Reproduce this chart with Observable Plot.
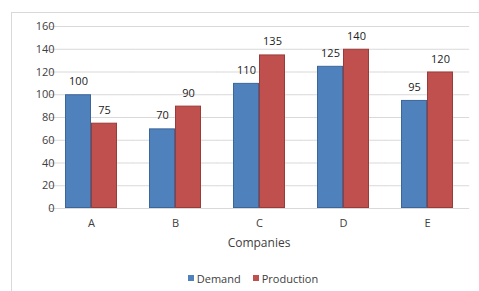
<!DOCTYPE html>
<html>
<head>
<meta charset="utf-8">
<script src="https://cdn.jsdelivr.net/npm/d3@7"></script>
<script src="https://cdn.jsdelivr.net/npm/@observablehq/plot@0.6"></script>
<style>
  html, body { margin: 0; padding: 0; background: #fff; }
  body { width: 479px; height: 291px; position: relative; overflow: hidden; font-family: "Open Sans", sans-serif; }
  #frame { position: absolute; left: 11px; top: 12px; width: 480px; height: 300px; border-left: 1px solid #d9d9d9; border-top: 1px solid #d9d9d9; }
  #chart { position: absolute; left: 0; top: 0; }
  #legend { position: absolute; left: 0; top: 269px; width: 479px; text-align: center; font-size: 11px; color: #404040; padding-left: 27px; box-sizing: border-box; }
  #legend span.item { display: inline-flex; align-items: center; margin: 0 6px; }
  #legend span.sw { display: inline-block; width: 6px; height: 6px; margin-right: 3px; }
</style>
</head>
<body>
<div id="frame"></div>
<div id="chart"></div>
<div id="legend"></div>
<script>
const companies = ["A", "B", "C", "D", "E"];
const demand = [100, 70, 110, 125, 95];
const production = [75, 90, 135, 140, 120];
const seriesNames = ["Demand", "Production"];
const seriesFill = ["#4f81bd", "#c0504d"];
const seriesStroke = ["#3c6698", "#993b38"];
const yTicks = [0, 20, 40, 60, 80, 100, 120, 140, 160];

const data = [];
companies.forEach((c, i) => {
  data.push({company: c, series: seriesNames[0], value: demand[i]});
  data.push({company: c, series: seriesNames[1], value: production[i]});
});

const W = 479, ML = 48, MR = 9;
const padInner = 0.384, padOuter = padInner / 2;
const step = (W - ML - MR) / (companies.length - padInner + 2 * padOuter);
const gridExtend = -(step * padInner) / 2;

const chart = Plot.plot({
  width: W,
  height: 262,
  marginLeft: ML,
  marginRight: MR,
  marginTop: 26,
  marginBottom: 54,
  style: {fontFamily: "'Open Sans', sans-serif", fontSize: "11px", color: "#404040", background: "transparent"},
  fx: {domain: companies, paddingInner: padInner, paddingOuter: padOuter, label: null, axis: null},
  x: {domain: seriesNames, padding: 0, axis: null},
  y: {domain: [0, 160], ticks: yTicks, axis: null},
  color: {domain: seriesNames, range: seriesFill},
  marks: [
    Plot.ruleY(yTicks, {stroke: "#d9d9d9", strokeWidth: 1, insetLeft: gridExtend, insetRight: gridExtend}),
    Plot.axisY(yTicks, {tickSize: 0, tickPadding: 11, label: null, fontSize: 11}),
    Plot.axisFx({anchor: "bottom", tickSize: 0, tickPadding: 11, label: null, fontSize: 11}),
    Plot.barY(data, {
      fx: "company", x: "series", y: "value",
      fill: "series",
      stroke: d => seriesStroke[seriesNames.indexOf(d.series)],
      strokeWidth: 1,
      inset: 0.5
    }),
    Plot.text(data, {
      fx: "company", x: "series", y: "value",
      text: d => String(d.value),
      dy: -13, fontSize: 11, fill: "#222"
    })
  ]
});
document.getElementById("chart").appendChild(chart);

// axis title
const svg = d3.select(chart);
svg.append("text")
  .attr("x", (48 + 470) / 2)
  .attr("y", 247)
  .attr("text-anchor", "middle")
  .attr("font-size", 12)
  .attr("fill", "#404040")
  .attr("font-family", "'Open Sans', sans-serif")
  .text("Companies");

const legend = document.getElementById("legend");
seriesNames.forEach((name, i) => {
  const item = document.createElement("span");
  item.className = "item";
  const sw = document.createElement("span");
  sw.className = "sw";
  sw.style.background = seriesFill[i];
  item.appendChild(sw);
  item.appendChild(document.createTextNode(name));
  legend.appendChild(item);
});
</script>
</body>
</html>
